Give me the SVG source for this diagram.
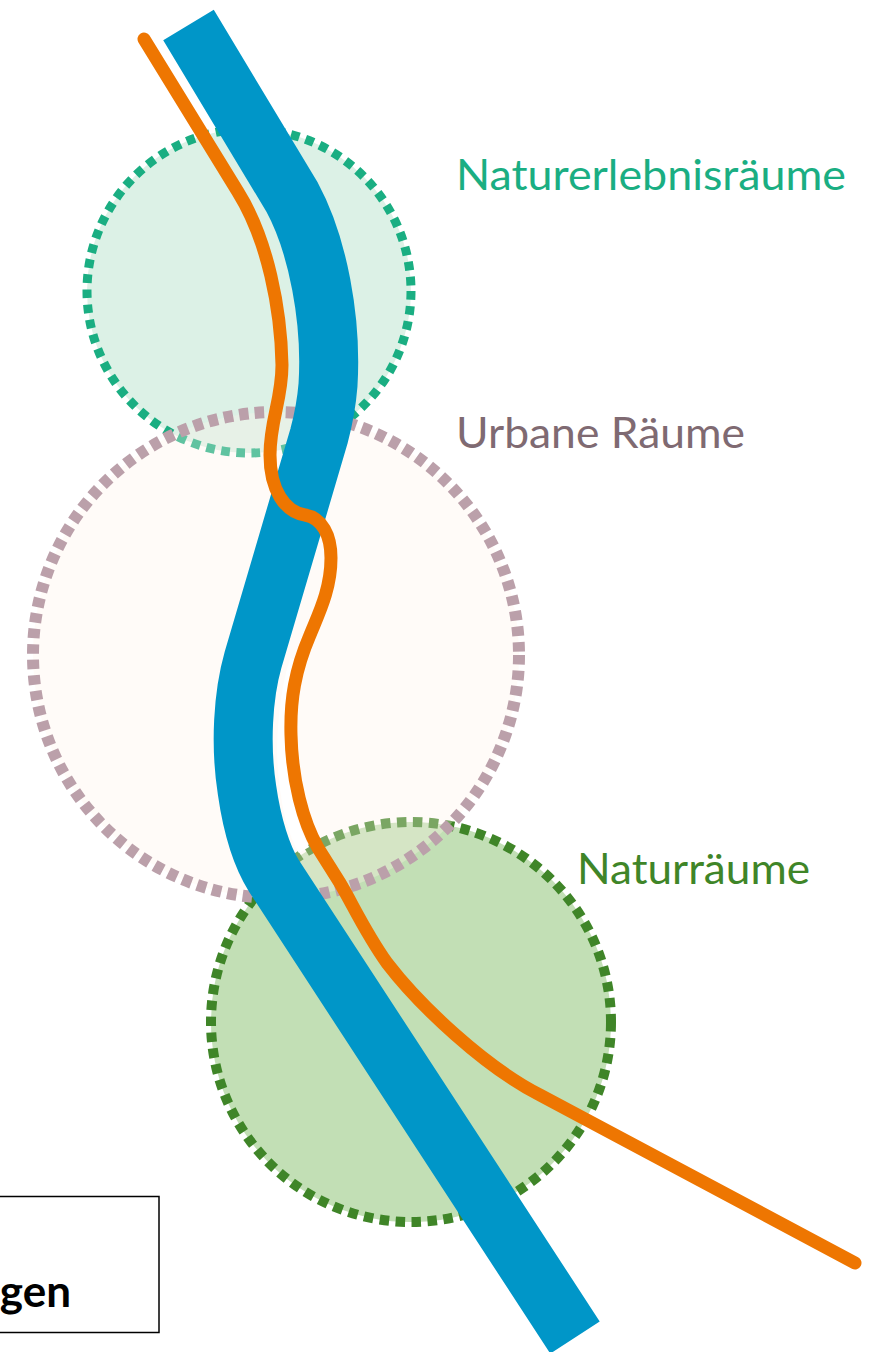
<svg xmlns="http://www.w3.org/2000/svg" width="871" height="1352" viewBox="0 0 871 1352">
<style>
text{font-family:"Lato","Liberation Sans",sans-serif;font-size:43px}
.l{fill:none;stroke-linejoin:round}
</style>
<rect width="871" height="1352" fill="#fff"/>
<g id="naturerlebnisraeume">
<circle cx="249" cy="291" r="162" fill="#DCF1E6" stroke="#1AAE82" stroke-width="9" stroke-dasharray="8.7 6.5"/>
<text x="456" y="190" fill="#1AAE82" textLength="390" lengthAdjust="spacingAndGlyphs">Naturerlebnisräume</text>
</g>
<g id="naturraeume">
<circle cx="411" cy="1022" r="200" fill="#C2DFB5" stroke="#3F8528" stroke-width="10" stroke-dasharray="9.5 6.5"/>
<text x="577" y="884" fill="#3F8528" textLength="233" lengthAdjust="spacingAndGlyphs">Naturräume</text>
</g>
<g id="urbane-raeume">
<circle cx="276" cy="655" r="243" fill="#FFF2E8" fill-opacity=".31" stroke="#BBA0AA" stroke-width="12" stroke-dasharray="9.5 6.1"/>
<text x="456" y="448" fill="#7F6A72" textLength="289" lengthAdjust="spacingAndGlyphs">Urbane Räume</text>
</g>
<g id="connectors">
<path class="l" d="M296 660 C286 690 280 740 285 780 C288 810 295 835 304 850" stroke="#fff" stroke-width="12"/>
<path id="fluss" class="l" stroke="#0096C8" stroke-width="59" d="M188.5 25 L292 197 C318 245 332 320 328 385 Q326 410 319 436 L253 660 C243 695 240 745 247 790 C252 825 262 857 274 876 L575 1337.5"/>
<path id="weg" class="l" stroke="#EE7601" stroke-width="13" stroke-linecap="round" d="M144 39 L238 192 C268 240 281 310 282 365 C282 400 270 420 270 455 C270 490 285 512 305 515 C322 518 331 535 331 558 C331 590 318 615 310 635 C295 670 290 700 291 735 C292 780 303 822 318 848 L340 883 C352 903 365 932 387 963 C420 1006 485 1067 540 1095 L855 1263"/>
</g>
<g id="box">
<rect x="-5" y="1196.5" width="164" height="136" fill="none" stroke="#000" stroke-width="1.5"/>
<text x="71" y="1307" text-anchor="end" font-weight="700" style="font-size:44px" fill="#000">gen</text>
</g>
</svg>
